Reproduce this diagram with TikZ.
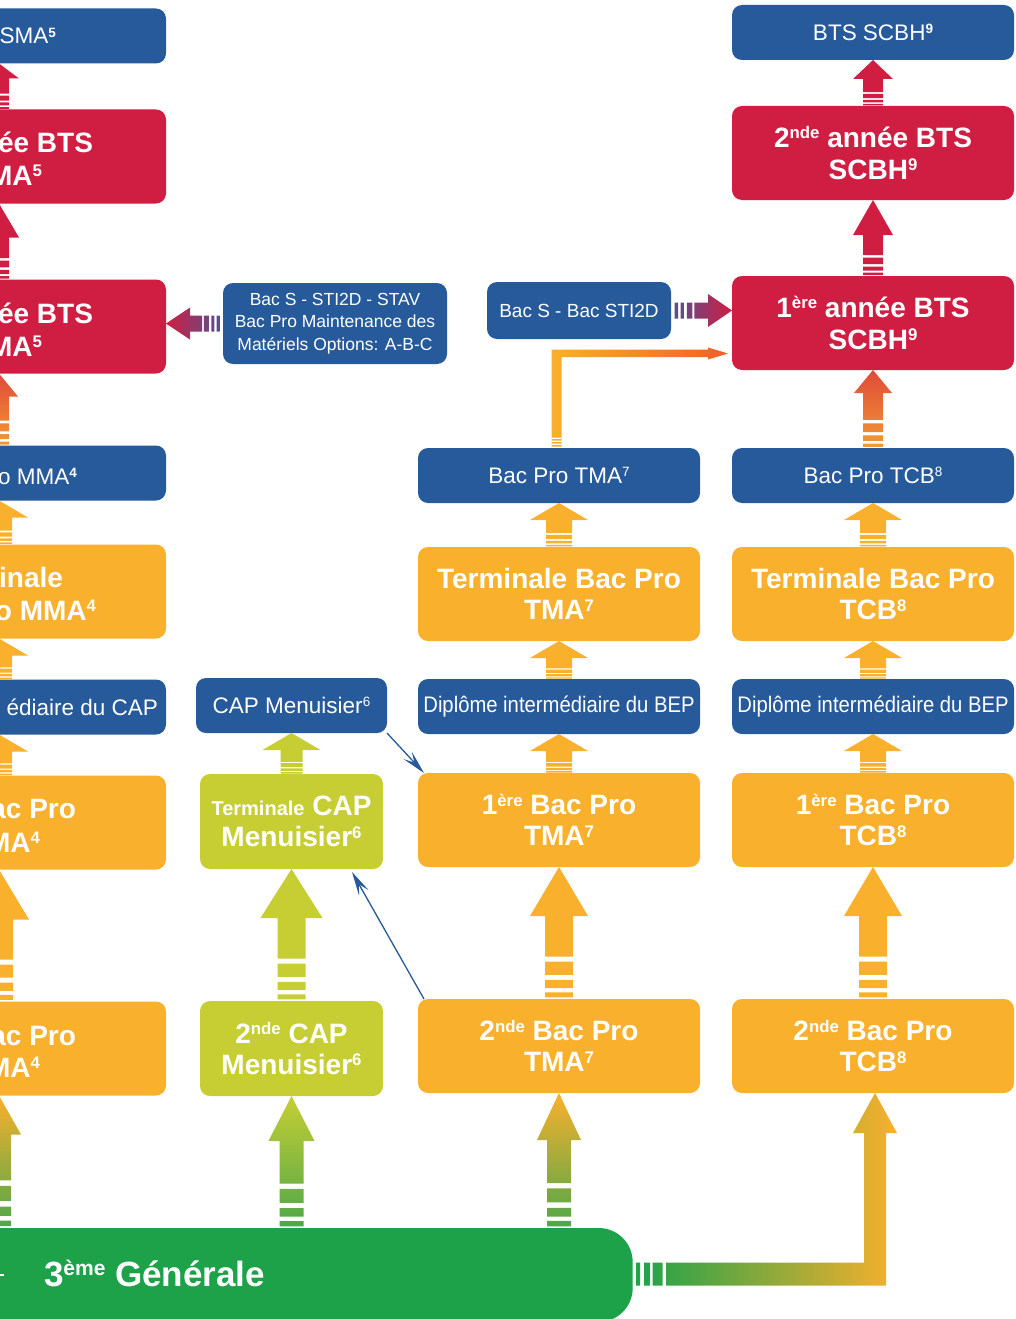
\documentclass[tikz,border=0pt]{standalone}
\usepackage{fontspec}
\setmainfont{Liberation Sans}
\newfontfamily\narrowfont[FakeStretch=0.9]{Liberation Sans}
\usepackage{tikz}
\usetikzlibrary{arrows.meta,positioning,calc}

\definecolor{cBlue}{HTML}{265A9A}
\definecolor{cRed}{HTML}{D01E42}
\definecolor{cOrange}{HTML}{F9B02D}
\definecolor{cLime}{HTML}{C6CE34}
\definecolor{cGreen}{HTML}{1DA24A}
\definecolor{cLeaf}{HTML}{4FA749}
\definecolor{cPurple}{HTML}{5A4E8C}
\definecolor{cFlame}{HTML}{E04A3A}
\definecolor{cAmber}{HTML}{F29A33}
\definecolor{cEmber}{HTML}{EF5F2A}

% small raised text
\newcommand{\sups}[1]{\raisebox{0.3em}{\scalebox{0.6}{#1}}}

\tikzset{
	box/.style={
		rectangle, rounded corners=10pt, inner sep=0pt, outer sep=0pt,
		text=white, align=center
	},
	%
	bluebox/.style={
		box, fill=cBlue, minimum width=282pt, minimum height=55pt,
		font=\fontsize{22.5}{27}\selectfont
	},
	%
	redbox/.style={
		box, fill=cRed, minimum width=282pt, minimum height=94pt,
		font=\bfseries\fontsize{28}{32}\selectfont
	},
	%
	orangebox/.style={
		box, fill=cOrange, minimum width=282pt, minimum height=94pt,
		font=\bfseries\fontsize{28}{31}\selectfont
	},
	%
	limebox/.style={
		box, fill=cLime, minimum width=183pt, minimum height=95pt,
		font=\bfseries\fontsize{28}{31}\selectfont
	},
	%
	frag/.style={inner sep=0pt, outer sep=0pt, text=white},
	thintext/.style={font=\fontsize{22.5}{27}\selectfont},
	boldtext/.style={font=\bfseries\fontsize{28}{31}\selectfont},
	%
	thinlink/.style={
		draw=cBlue, line width=1.3pt,
		-{Stealth[length=24pt,width=11pt,inset=10pt]}
	}
}

% striped block arrow going up: tail, tip, half shaft, half head, head length, paint
\newcommand{\blockarrow}[6]{%
	\path[#6] let \p1=(#1), \p2=(#2), \n1={\y2-\y1-(#5)} in
	(\x1-#3,\y1+0.02*\n1) rectangle (\x1+#3,\y1+0.08*\n1)
	(\x1-#3,\y1+0.13*\n1) rectangle (\x1+#3,\y1+0.23*\n1)
	(\x1-#3,\y1+0.29*\n1) rectangle (\x1+#3,\y1+0.45*\n1)
	(\x1-#3,\y1+0.51*\n1) -- (\x1-#3,\y2-#5) -- (\x1-#4,\y2-#5) -- (\x1,\y2)
	-- (\x1+#4,\y2-#5) -- (\x1+#3,\y2-#5) -- (\x1+#3,\y1+0.51*\n1) -- cycle;}

% striped block arrow sideways: head length signed (+ right, - left)
\newcommand{\sidearrow}[6]{%
	\path[#6] let \p1=(#1), \p2=(#2), \n1={\x2-\x1-(#5)} in
	(\x1+0.10*\n1,\y1-#3) rectangle (\x1+0.19*\n1,\y1+#3)
	(\x1+0.26*\n1,\y1-#3) rectangle (\x1+0.35*\n1,\y1+#3)
	(\x1+0.43*\n1,\y1-#3) rectangle (\x1+0.58*\n1,\y1+#3)
	(\x1+0.63*\n1,\y1-#3) -- (\x1+\n1,\y1-#3) -- (\x1+\n1,\y1-#4) -- (\x2,\y1)
	-- (\x1+\n1,\y1+#4) -- (\x1+\n1,\y1+#3) -- (\x1+0.63*\n1,\y1+#3) -- cycle;}

\begin{document}
\begin{tikzpicture}[x=1pt,y=-1pt]
\useasboundingbox (0,0) rectangle (1016,1319);
\clip (0,0) rectangle (1016,1319);
\fill[white] (0,0) rectangle (1016,1319);

%left column (cut by the border)
\node (mma2)[orangebox] at (25,1048.5) {};
\node (mma1)[orangebox, above=132pt of mma2] {};
\node (mmadip)[bluebox, above=41pt of mma1] {};
\node (mmaterm)[orangebox, above=41pt of mmadip] {};
\node (mmabac)[bluebox, above=44pt of mmaterm] {};
\node (tsma1)[redbox, above=72pt of mmabac] {};
\node (tsma2)[redbox, above=76pt of tsma1] {};
\node (tsmadip)[bluebox, above=46pt of tsma2] {};

\node (tsmadipT)[frag, thintext, anchor=base east] at (56,44) {SMA\sups{\textbf{5}}};
\node (tsma2Ta)[frag, boldtext, anchor=base east] at (93,152) {ée BTS};
\node (tsma2Tb)[frag, boldtext, anchor=base east] at (42,185) {MA\sups{5}};
\node (tsma1Ta)[frag, boldtext, anchor=base east] at (93,323) {ée BTS};
\node (tsma1Tb)[frag, boldtext, anchor=base east] at (42,356) {MA\sups{5}};
\node (mmabacT)[frag, thintext, anchor=base east] at (77,484) {o MMA\sups{\textbf{4}}};
\node (mmatermTa)[frag, boldtext, anchor=base east] at (63,587) {inale};
\node (mmatermTb)[frag, boldtext, anchor=base east] at (96,620) {o MMA\sups{4}};
\node (mmadipT)[frag, thintext, anchor=base east] at (158,715) {édiaire du CAP};
\node (mma1Ta)[frag, boldtext, anchor=base east] at (76,818) {ac Pro};
\node (mma1Tb)[frag, boldtext, anchor=base east] at (40,852) {MA\sups{4}};
\node (mma2Ta)[frag, boldtext, anchor=base east] at (76,1045) {ac Pro};
\node (mma2Tb)[frag, boldtext, anchor=base east] at (40,1077) {MA\sups{4}};

%CAP column
\node (tcap2)[limebox] at (291.5,1048.5) {2\sups{nde} CAP\\Menuisier\sups{6}};
\node (tcap1)[limebox, above=132pt of tcap2] {{\fontsize{20}{22}\selectfont Terminale} CAP\\Menuisier\sups{6}};
\node (capm)[bluebox, minimum width=191pt, above=41pt of tcap1] {{CAP Menuisier\sups{6}}};

%TMA column
\node (tma2)[orangebox] at (559,1046) {2\sups{nde} Bac Pro\\TMA\sups{7}};
\node (tma1)[orangebox, above=132pt of tma2] {1\sups{ère} Bac Pro\\TMA\sups{7}};
\node (tmadip)[bluebox, above=39pt of tma1, font=\narrowfont\fontsize{22.5}{27}\selectfont] {{Diplôme intermédiaire du BEP}};
\node (tmaterm)[orangebox, above=38pt of tmadip] {Terminale Bac Pro\\TMA\sups{7}};
\node (tmabac)[bluebox, above=44pt of tmaterm] {{Bac Pro TMA\sups{7}}};

%TCB column
\node (tcb2)[orangebox] at (873,1046) {2\sups{nde} Bac Pro\\TCB\sups{8}};
\node (tcb1)[orangebox, above=132pt of tcb2] {1\sups{ère} Bac Pro\\TCB\sups{8}};
\node (tcbdip)[bluebox, above=39pt of tcb1, font=\narrowfont\fontsize{22.5}{27}\selectfont] {{Diplôme intermédiaire du BEP}};
\node (tcbterm)[orangebox, above=38pt of tcbdip] {Terminale Bac Pro\\TCB\sups{8}};
\node (tcbbac)[bluebox, above=44pt of tcbterm] {{Bac Pro TCB\sups{8}}};
\node (bts1)[redbox, above=78pt of tcbbac] {1\sups{ère} année BTS\\SCBH\sups{9}};
\node (bts2)[redbox, above=76pt of bts1] {2\sups{nde} année BTS\\SCBH\sups{9}};
\node (btsdip)[bluebox, above=46pt of bts2] {{BTS SCBH\sups{\textbf{9}}}};

%entries from other diplomas
\node (bacopt)[bluebox, minimum width=224pt, minimum height=81pt, font=\fontsize{17.5}{22.5}\selectfont] at (335,323.5)
	{Bac S - STI2D - STAV\\Bac Pro Maintenance des\\Matériels Options: A-B-C};
\node (bacs)[bluebox, minimum width=184pt, minimum height=57pt, font=\fontsize{19}{23}\selectfont] at (579,310.5) {{Bac S - Bac STI2D}};

%3eme
\node (gen)[box, rounded corners=34pt, fill=cGreen, minimum width=860pt, minimum height=94pt] at (202.7,1275) {};
\node (genT)[frag, anchor=base west, font=\bfseries\fontsize{35}{40}\selectfont] at (44,1286) {3\sups{ème} Générale};
\draw[white, line width=2.5pt] (-10,1275) -- (4,1275);

%arrows
\coordinate (c1) at (-1,0);
\blockarrow{tsma2.north -| c1}{tsmadip.south -| c1}{10}{20}{15}{fill=cRed}
\blockarrow{tsma1.north -| c1}{tsma2.south -| c1}{10}{20}{34}{fill=cRed}
\blockarrow{mmabac.north -| c1}{tsma1.south -| c1}{10}{19}{23}{top color=cFlame, bottom color=cAmber}
\blockarrow{mmaterm.north -| c1}{mmabac.south -| c1}{13}{29}{17}{fill=cOrange}
\blockarrow{mmadip.north -| c1}{mmaterm.south -| c1}{13}{29}{17}{fill=cOrange}
\blockarrow{mma1.north -| c1}{mmadip.south -| c1}{13}{29}{17}{fill=cOrange}
\blockarrow{mma2.north -| c1}{mma1.south -| c1}{14}{30}{50}{fill=cOrange}
\blockarrow{c1 |- gen.north}{mma2.south -| c1}{12}{22}{39}{top color=cOrange, bottom color=cLeaf}

\blockarrow{tcap1.north}{capm.south}{11}{29}{17}{fill=cLime}
\blockarrow{tcap2.north}{tcap1.south}{14}{31}{49}{fill=cLime}
\blockarrow{tcap2.south |- gen.north}{tcap2.south}{12}{23}{45}{top color=cLime, bottom color=cLeaf}

\blockarrow{tmaterm.north}{tmabac.south}{13}{29}{17}{fill=cOrange}
\blockarrow{tmadip.north}{tmaterm.south}{13}{29}{17}{fill=cOrange}
\blockarrow{tma1.north}{tmadip.south}{13}{29}{17}{fill=cOrange}
\blockarrow{tma2.north}{tma1.south}{14}{29}{49}{fill=cOrange}
\blockarrow{tma2.south |- gen.north}{tma2.south}{12}{22}{47}{top color=cOrange, bottom color=cLeaf}

\blockarrow{bts2.north}{btsdip.south}{10}{20}{19}{fill=cRed}
\blockarrow{bts1.north}{bts2.south}{10}{20}{35}{fill=cRed}
\blockarrow{tcbbac.north}{bts1.south}{10}{19}{23}{top color=cFlame, bottom color=cAmber}
\blockarrow{tcbterm.north}{tcbbac.south}{13}{29}{17}{fill=cOrange}
\blockarrow{tcbdip.north}{tcbterm.south}{13}{29}{17}{fill=cOrange}
\blockarrow{tcb1.north}{tcbdip.south}{13}{29}{17}{fill=cOrange}
\blockarrow{tcb2.north}{tcb1.south}{14}{29}{49}{fill=cOrange}

\sidearrow{bacs.east}{bts1.west |- bacs.east}{8}{16.5}{24}{left color=cPurple, right color=cRed}
\sidearrow{bacopt.west}{tsma1.east |- bacopt.west}{8}{16}{-24}{left color=cRed, right color=cPurple}

% Bac Pro TMA -> 1ere annee BTS
\coordinate (kneeA) at (556.5,353.5);
\path[left color=cOrange, right color=cEmber] let \p1=(tmabac.north -| kneeA), \p2=(bts1.west |- kneeA) in
	(\x1-5,\y1+1.5) rectangle (\x1+5,\y1+3)
	(\x1-5,\y1+4.5) rectangle (\x1+5,\y1+6)
	(\x1-5,\y1+7.5) rectangle (\x1+5,\y1+9)
	(\x1-5,\y1+10.5) -- (\x1-5,\y2+4) -- (\x2-24,\y2+4) -- (\x2-24,\y2+6) -- (\x2-4,\y2)
	-- (\x2-24,\y2-6) -- (\x2-24,\y2-3.5) -- (\x1+5,\y2-3.5) -- (\x1+5,\y1+10.5) -- cycle;

% 3eme -> 2nde Bac Pro TCB
\coordinate (kneeB) at (875,1274);
\path[left color=cGreen, right color=cOrange] let \p1=(gen.east |- kneeB), \p2=(tcb2.south -| kneeB) in
	(\x1+3.5,\y1-11.5) rectangle (\x1+7.5,\y1+11.5)
	(\x1+11.5,\y1-11.5) rectangle (\x1+17.5,\y1+11.5)
	(\x1+20,\y1-11.5) rectangle (\x1+30,\y1+11.5)
	(\x1+33.5,\y1+11.5) -- (\x2-11,\y1+11.5) -- (\x2-11,\y2-40) -- (\x2-22,\y2-40) -- (\x2,\y2)
	-- (\x2+22,\y2-40) -- (\x2+11,\y2-40) -- (\x2+11,\y1-11.5) -- (\x1+33.5,\y1-11.5) -- cycle;

% passerelles
\draw[thinlink] (capm.south east) -- ([xshift=6pt]tma1.north west);
\draw[thinlink] ([xshift=6pt]tma2.north west) -- ([xshift=-31pt,yshift=-3pt]tcap1.south east);
\end{tikzpicture}
\end{document}
